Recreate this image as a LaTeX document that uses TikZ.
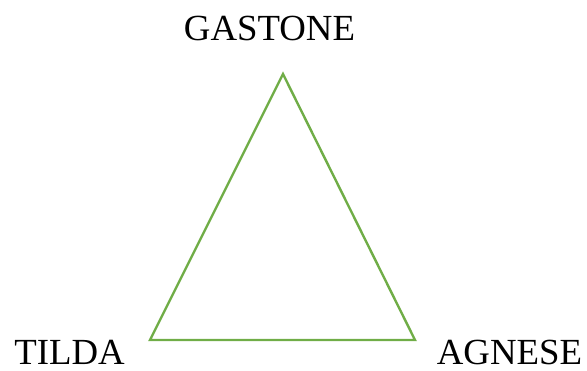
\documentclass[tikz,border=0pt]{standalone}
\usepackage{fontspec}
\setmainfont{Liberation Serif}
\definecolor{tgreen}{RGB}{112,173,71}
\tikzset{
  lbl/.style={anchor=base, inner sep=0pt, text depth=0pt, font=\fontsize{36.8}{40}\selectfont},
  edge/.style={draw=tgreen, line width=2.4pt}
}
\begin{document}
\begin{tikzpicture}[x=1pt,y=-1pt]
\useasboundingbox (0,0) rectangle (587,371);
\node[lbl] (gastone) at (269.5,41) {GASTONE};
\node[lbl] (tilda) at (69.5,365) {TILDA};
\node[lbl] (agnese) at (509.5,365) {AGNESE};
\coordinate (vg) at (283,74);
\coordinate (vt) at (150,340);
\coordinate (va) at (415,340);
\draw[edge] (vg) -- (va) -- (vt) -- cycle;
\end{tikzpicture}
\end{document}
